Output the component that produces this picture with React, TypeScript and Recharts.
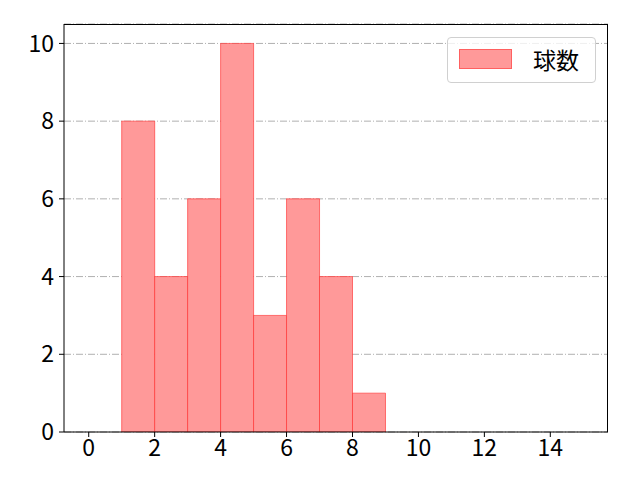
import { Bar, CartesianGrid, ComposedChart, XAxis, YAxis } from "recharts";

// histogram bins: left edges 0..14, one unit wide
const binCenters = [0.5, 1.5, 2.5, 3.5, 4.5, 5.5, 6.5, 7.5, 8.5, 9.5, 10.5, 11.5, 12.5, 13.5, 14.5];
const pitchCounts = [0, 8, 4, 6, 10, 3, 6, 4, 1, 0, 0, 0, 0, 0, 0];
const xTicks = [0, 2, 4, 6, 8, 10, 12, 14];
const yTicks = [0, 2, 4, 6, 8, 10];
const seriesName = "球数";

const data = binCenters.map((x, i) => ({ x, count: pitchCounts[i] }));

const FONT = "'Noto Sans CJK JP', 'Noto Sans', sans-serif";
const tickStyle = { fill: "#000", fontSize: 23, fontFamily: FONT };

export default function App() {
  return (
    <div style={{ position: "absolute", left: 0, top: 0, width: 640, height: 480, background: "#fff" }}>
      <ComposedChart
        width={640}
        height={480}
        data={data}
        barCategoryGap={0}
        barGap={0}
        margin={{ top: 24, right: 32, left: 4, bottom: 18 }}
      >
        <CartesianGrid horizontal vertical={false} stroke="#b0b0b0" strokeDasharray="7 2 1 2" />
        <XAxis
          dataKey="x"
          type="number"
          domain={[-0.75, 15.75]}
          ticks={xTicks}
          interval={0}
          allowDataOverflow
          height={30}
          tick={tickStyle}
          tickSize={5}
          tickMargin={3}
          axisLine={{ stroke: "#000", strokeWidth: 1 }}
          tickLine={{ stroke: "#000" }}
        />
        <YAxis
          type="number"
          domain={[0, 10.5]}
          ticks={yTicks}
          interval={0}
          allowDataOverflow
          width={60}
          tick={tickStyle}
          tickSize={5}
          tickMargin={5}
          axisLine={{ stroke: "#000", strokeWidth: 1 }}
          tickLine={{ stroke: "#000" }}
        />
        <Bar
          dataKey="count"
          name={seriesName}
          fill="#ff9999"
          stroke="rgba(255,40,40,0.6)"
          strokeWidth={1}
          isAnimationActive={false}
        />
      </ComposedChart>
      {/* axes frame (top and right spines) */}
      <div
        style={{
          position: "absolute",
          left: 64,
          top: 24,
          width: 544,
          height: 408,
          borderTop: "1px solid #000",
          borderRight: "1px solid #000",
          boxSizing: "border-box",
          pointerEvents: "none",
        }}
      />
      <div
        style={{
          position: "absolute",
          left: 447,
          top: 37,
          width: 147,
          height: 44,
          border: "1px solid #d0d0d0",
          borderRadius: 4,
          background: "rgba(255,255,255,0.8)",
          fontFamily: FONT,
        }}
      >
        <div
          style={{
            position: "absolute",
            left: 11,
            top: 11,
            width: 51,
            height: 18,
            background: "#ff9999",
            border: "1px solid rgba(255,40,40,0.5)",
          }}
        />
        <div
          style={{
            position: "absolute",
            left: 85,
            top: 5,
            fontSize: 23,
            lineHeight: "32px",
            color: "#000",
          }}
        >
          {seriesName}
        </div>
      </div>
    </div>
  );
}
